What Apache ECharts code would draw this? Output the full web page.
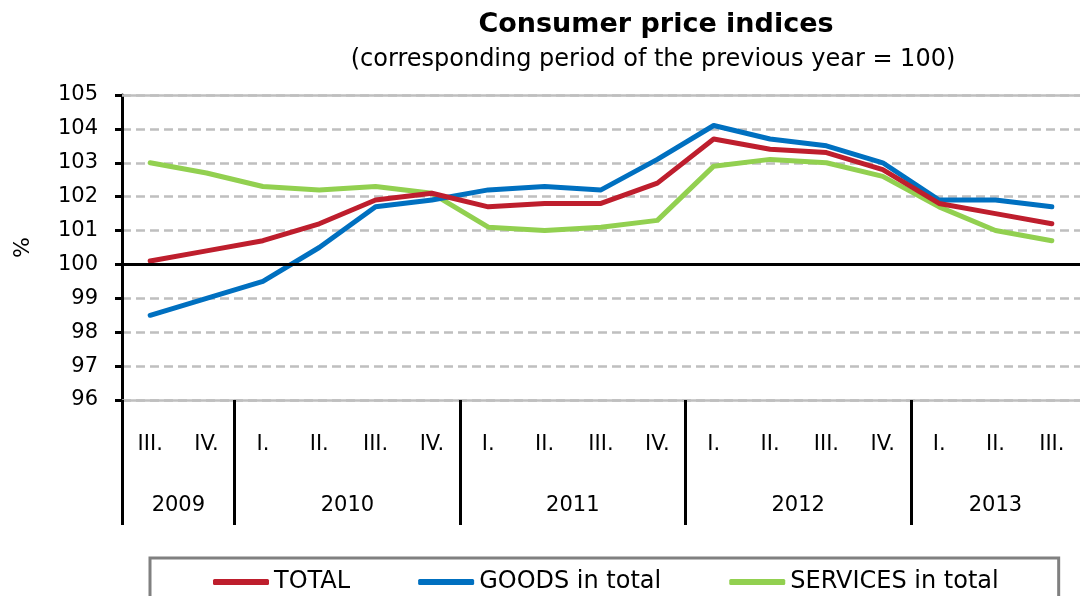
<!DOCTYPE html>
<html>
<head>
<meta charset="utf-8">
<script src="https://cdn.jsdelivr.net/npm/echarts@6/dist/echarts.min.js"></script>
<style>
  html, body { margin: 0; padding: 0; background: #fff; }
  #main { width: 1080px; height: 596px; }
</style>
</head>
<body>
<div id="main"></div>
<script>
// quarters and years
var quarters = ['III.', 'IV.',
    'I.', 'II.', 'III.', 'IV.',
    'I.', 'II.', 'III.', 'IV.',
    'I.', 'II.', 'III.', 'IV.',
    'I.', 'II.', 'III.'];
var years = ['2009', '2010', '2011', '2012', '2013'];
var quartersPerYear = [2, 4, 4, 4, 3];

// series values (corresponding period of previous year = 100)
var total = [100.1, 100.4, 100.7, 101.2, 101.9, 102.1, 101.7, 101.8, 101.8, 102.4, 103.7, 103.4, 103.3, 102.8, 101.8, 101.5, 101.2];
var goods = [98.5, 99.0, 99.5, 100.5, 101.7, 101.9, 102.2, 102.3, 102.2, 103.1, 104.1, 103.7, 103.5, 103.0, 101.9, 101.9, 101.7];
var services = [103.0, 102.7, 102.3, 102.2, 102.3, 102.1, 101.1, 101.0, 101.1, 101.3, 102.9, 103.1, 103.0, 102.6, 101.7, 101.0, 100.7];

var yMin = 96, yMax = 105, yStep = 1;

(function () {
    var myChart = echarts.init(document.getElementById('main'));

    // year group borders and label positions on a 0..n value scale
    var separators = [0];
    var yearPos = [];
    var acc = 0;
    for (var i = 0; i < quartersPerYear.length; i++) {
        yearPos.push(acc + quartersPerYear[i] / 2);
        acc += quartersPerYear[i];
        if (i < quartersPerYear.length - 1) separators.push(acc);
    }

    var font = 'DejaVu Sans';

    option = {
        animation: false,
        textStyle: { fontFamily: font, color: '#000' },
        title: [
            {
                text: 'Consumer price indices',
                left: 651,
                top: 6,
                textAlign: 'center',
                textStyle: { fontFamily: font, fontSize: 27, fontWeight: 'bold', color: '#000' }
            },
            {
                text: '(corresponding period of the previous year = 100)',
                left: 648,
                top: 43,
                textAlign: 'center',
                textStyle: { fontFamily: font, fontSize: 24, fontWeight: 'normal', color: '#000' }
            }
        ],
        grid: {
            left: 122,
            top: 95,
            width: 965,
            height: 305
        },
        legend: {
            left: 150,
            top: 558,
            padding: [12, 60, 12, 63],
            itemGap: 68,
            itemWidth: 56,
            itemHeight: 6,
            icon: 'roundRect',
            borderColor: '#808080',
            borderWidth: 3,
            textStyle: { fontFamily: font, fontSize: 24, color: '#000' },
            data: ['TOTAL', 'GOODS in total', 'SERVICES in total']
        },
        xAxis: [
            {
                type: 'category',
                data: quarters,
                boundaryGap: true,
                axisLine: { show: true, onZero: false, lineStyle: { color: '#BFBFBF', width: 2.5 } },
                axisTick: { show: false },
                axisLabel: { margin: 34, fontSize: 21, color: '#000', fontFamily: font, interval: 0 },
                splitLine: { show: false }
            },
            {
                type: 'value',
                position: 'bottom',
                min: 0,
                max: quarters.length,
                axisLine: { show: false },
                splitLine: { show: false },
                axisTick: {
                    show: true,
                    customValues: separators,
                    length: 125,
                    lineStyle: { color: '#000', width: 3 }
                },
                axisLabel: {
                    show: true,
                    customValues: yearPos,
                    margin: 95,
                    fontSize: 21,
                    color: '#000',
                    fontFamily: font,
                    formatter: function (v) {
                        var k = yearPos.indexOf(v);
                        return k >= 0 ? years[k] : '';
                    }
                }
            }
        ],
        yAxis: {
            type: 'value',
            min: yMin,
            max: yMax,
            interval: yStep,
            name: '%',
            nameLocation: 'middle',
            nameGap: 88,
            nameTextStyle: { fontFamily: font, fontSize: 22, color: '#000' },
            axisLine: { show: true, lineStyle: { color: '#000', width: 3 } },
            axisTick: { show: true, length: 7, lineStyle: { color: '#000', width: 3 } },
            axisLabel: { margin: 24, fontSize: 21, color: '#000', fontFamily: font },
            splitLine: { show: true, lineStyle: { color: '#BFBFBF', width: 2.5, type: [9, 5] } }
        },
        series: [
            {
                name: 'TOTAL',
                type: 'line',
                data: total,
                symbol: 'none',
                color: '#BE1E2D',
                lineStyle: { width: 5, cap: 'round', join: 'round' },
                z: 4,
                markLine: {
                    silent: true,
                    symbol: 'none',
                    label: { show: false },
                    animation: false,
                    data: [
                        { yAxis: yMax, lineStyle: { color: '#BFBFBF', width: 2.5, type: 'solid' } },
                        { yAxis: 100, lineStyle: { color: '#000', width: 3, type: 'solid' } }
                    ]
                }
            },
            {
                name: 'GOODS in total',
                type: 'line',
                data: goods,
                symbol: 'none',
                color: '#0070C0',
                lineStyle: { width: 5, cap: 'round', join: 'round' },
                z: 3
            },
            {
                name: 'SERVICES in total',
                type: 'line',
                data: services,
                symbol: 'none',
                color: '#92D050',
                lineStyle: { width: 5, cap: 'round', join: 'round' },
                z: 2
            }
        ]
    };

    myChart.setOption(option);
})();
</script>
</body>
</html>
